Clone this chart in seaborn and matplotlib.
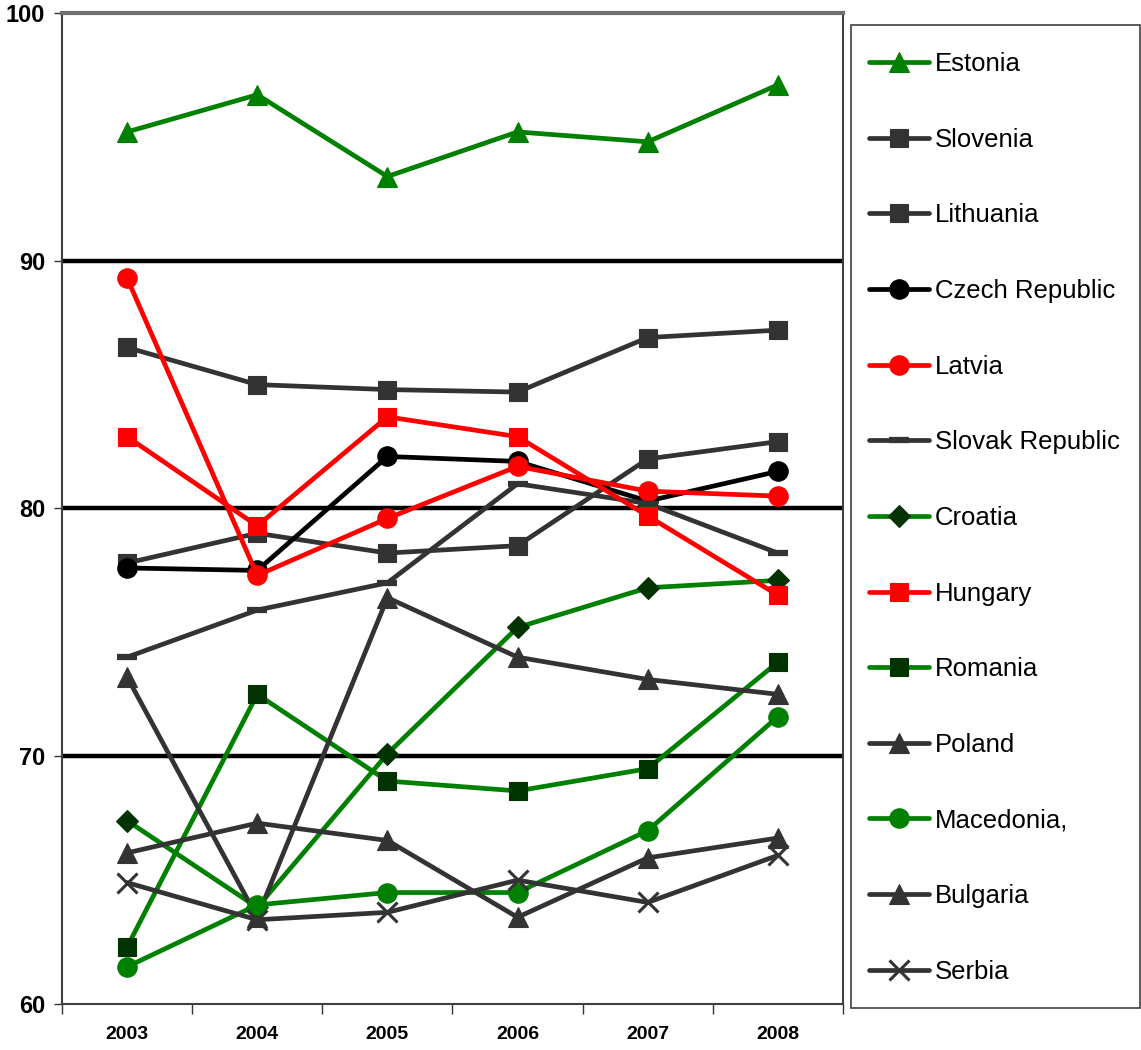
import matplotlib
matplotlib.use("Agg")
import matplotlib.pyplot as plt
import seaborn as sns
import pandas as pd
from matplotlib.patches import Rectangle
from matplotlib.ticker import FixedLocator, NullFormatter

sns.set_theme(style="white")
plt.rcParams['font.family'] = ['Liberation Sans', 'DejaVu Sans']
plt.rcParams['text.color'] = 'black'
plt.rcParams['xtick.color'] = 'black'
plt.rcParams['ytick.color'] = 'black'

years = [2003, 2004, 2005, 2006, 2007, 2008]

estonia = [95.2, 96.7, 93.4, 95.2, 94.8, 97.1]
slovenia = [86.5, 85.0, 84.8, 84.7, 86.9, 87.2]
lithuania = [77.8, 79.0, 78.2, 78.5, 82.0, 82.7]
czech_republic = [77.6, 77.5, 82.1, 81.9, 80.3, 81.5]
latvia = [89.3, 77.3, 79.6, 81.7, 80.7, 80.5]
slovak_republic = [74.0, 75.9, 77.0, 81.0, 80.2, 78.2]
croatia = [67.4, 63.9, 70.1, 75.2, 76.8, 77.1]
hungary = [82.9, 79.3, 83.7, 82.9, 79.7, 76.5]
romania = [62.3, 72.5, 69.0, 68.6, 69.5, 73.8]
poland = [73.2, 63.5, 76.4, 74.0, 73.1, 72.5]
macedonia = [61.5, 64.0, 64.5, 64.5, 67.0, 71.6]
bulgaria = [66.1, 67.3, 66.6, 63.5, 65.9, 66.7]
serbia = [64.9, 63.4, 63.7, 65.0, 64.1, 66.0]

countries = ["Estonia", "Slovenia", "Lithuania", "Czech Republic", "Latvia",
             "Slovak Republic", "Croatia", "Hungary", "Romania", "Poland",
             "Macedonia,", "Bulgaria", "Serbia"]
values = [estonia, slovenia, lithuania, czech_republic, latvia, slovak_republic,
          croatia, hungary, romania, poland, macedonia, bulgaria, serbia]

GREEN = "#008000"
DARK_GREEN = "#003300"
GREY = "#333333"
RED = "#FF0000"
BLACK = "#000000"

# (line colour, marker, marker face colour)
styles = {
    "Estonia": (GREEN, "^", GREEN),
    "Slovenia": (GREY, "s", GREY),
    "Lithuania": (GREY, "s", GREY),
    "Czech Republic": (BLACK, "o", BLACK),
    "Latvia": (RED, "o", RED),
    "Slovak Republic": (GREY, "_", GREY),
    "Croatia": (GREEN, "D", DARK_GREEN),
    "Hungary": (RED, "s", RED),
    "Romania": (GREEN, "s", DARK_GREEN),
    "Poland": (GREY, "^", GREY),
    "Macedonia,": (GREEN, "o", GREEN),
    "Bulgaria": (GREY, "^", GREY),
    "Serbia": (GREY, "x", GREY),
}
marker_size = {"s": 13.5, "o": 14, "^": 14, "D": 11, "_": 15, "x": 14}
marker_edge = {"_": 4.5, "x": 2.2}

df = pd.DataFrame(
    [(c, y, v) for c, vals in zip(countries, values) for y, v in zip(years, vals)],
    columns=["country", "year", "value"],
)

W, H = 1141, 1050
fig = plt.figure(figsize=(W / 100, H / 100), dpi=100)
ax = fig.add_axes([62 / W, (H - 1004) / H, (843 - 62) / W, (1004 - 13) / H])

for i, c in enumerate(countries):
    color, marker, face = styles[c]
    sub = df[df["country"] == c]
    sns.lineplot(data=sub, x="year", y="value", ax=ax, color=color, lw=3.4,
                 marker=marker, markersize=marker_size[marker],
                 markerfacecolor=face, markeredgecolor=face,
                 markeredgewidth=marker_edge.get(marker, 0.8), label=c,
                 zorder=3 + i, legend=False)

ax.set_xlim(2002.5, 2008.5)
ax.set_ylim(60, 100)
ax.set_xlabel("")
ax.set_ylabel("")

# y axis
ax.set_yticks([60, 70, 80, 90, 100])
ax.set_yticklabels(["60", "70", "80", "90", "100"], fontsize=17, fontweight="bold",
                   color="black")
ax.tick_params(axis="y", direction="out", length=6, width=1, color="#333333",
               pad=6, left=True)
ax.grid(axis="y", color="black", lw=3.2)
ax.grid(axis="x", visible=False)
gls = ax.get_ygridlines()
gls[0].set_visible(False)
gls[-1].set_visible(False)

# x axis: ticks between years, labels centred on years
ax.xaxis.set_major_locator(FixedLocator([2002.5 + k for k in range(7)]))
ax.xaxis.set_major_formatter(NullFormatter())
ax.xaxis.set_minor_locator(FixedLocator(years))
ax.set_xticklabels([str(y) for y in years], minor=True, fontsize=14,
                   fontweight="bold", color="black")
ax.tick_params(axis="x", which="major", direction="out", length=7, width=1,
               color="#333333", bottom=True)
ax.tick_params(axis="x", which="minor", length=0, pad=16, bottom=True)

for side in ["left", "bottom", "right"]:
    ax.spines[side].set_color("#404040")
    ax.spines[side].set_linewidth(1.5)
ax.spines["top"].set_color("#707070")
ax.spines["top"].set_linewidth(3)

# legend box
fig.patches.append(Rectangle((851 / W, 1 - 1008 / H), (1140 - 851) / W, (1008 - 25) / H,
                             transform=fig.transFigure, fill=False,
                             edgecolor="#404040", lw=1.2))
handles, labels = ax.get_legend_handles_labels()
leg = fig.legend(handles, labels, loc="upper left",
                 bbox_to_anchor=(869 / W, 1 - 52 / H), bbox_transform=fig.transFigure,
                 frameon=False, fontsize=18.5, handlelength=2.35, handletextpad=0.2,
                 labelspacing=2.01, borderpad=0, borderaxespad=0)
for t in leg.get_texts():
    t.set_color("black")

fig.savefig("out.png", dpi=100)
